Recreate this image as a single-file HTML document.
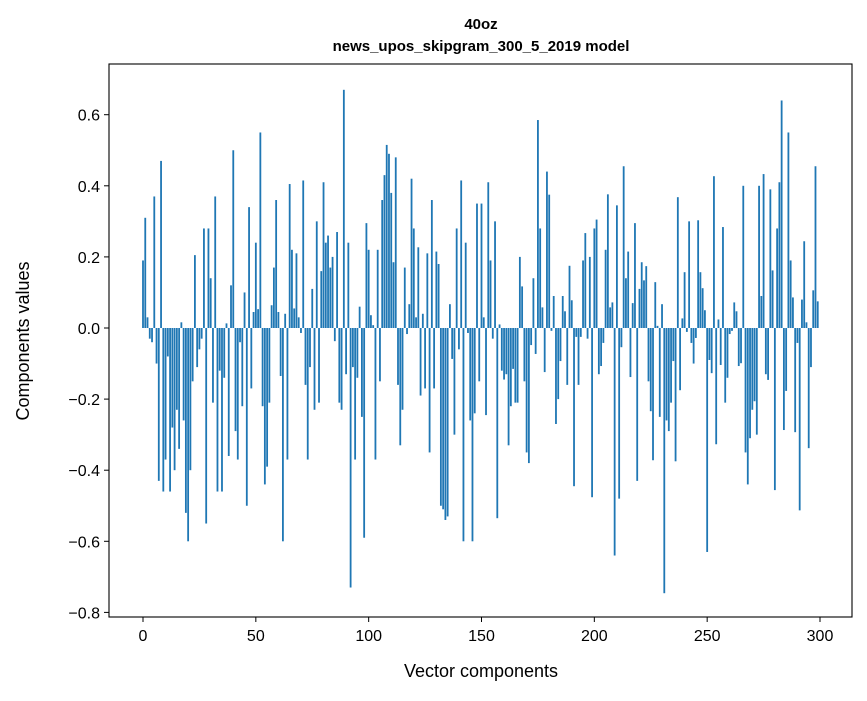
<!DOCTYPE html>
<html><head><meta charset="utf-8"><style>
body{margin:0;background:#fff;}
svg text{font-family:"Liberation Sans","DejaVu Sans",sans-serif;fill:#000;}
</style></head><body>
<svg id="chart" width="867" height="696" xmlns="http://www.w3.org/2000/svg">
<rect width="867" height="696" fill="#fff"/>
<text x="481" y="29" text-anchor="middle" font-size="15" font-weight="bold">40oz</text>
<text x="481" y="51" text-anchor="middle" font-size="15" font-weight="bold">news_upos_skipgram_300_5_2019 model</text>
<g id="bars"></g>
<g id="axes"></g>
<text x="481" y="677" text-anchor="middle" font-size="18">Vector components</text>
<text transform="translate(29,341) rotate(-90)" text-anchor="middle" font-size="18">Components values</text>
</svg>
<script>
const values = [0.19,0.31,0.03,-0.03,-0.04,0.37,-0.10,-0.43,0.47,-0.46,
-0.37,-0.08,-0.46,-0.28,-0.40,-0.23,-0.34,0.016,-0.26,-0.52,
-0.60,-0.40,-0.15,0.205,-0.11,-0.06,-0.03,0.28,-0.55,0.28,
0.14,-0.21,0.37,-0.46,-0.12,-0.46,-0.14,0.013,-0.36,0.12,
0.50,-0.29,-0.37,-0.04,-0.22,0.10,-0.50,0.34,-0.17,0.045,
0.24,0.053,0.55,-0.22,-0.44,-0.39,-0.21,0.064,0.17,0.36,
0.045,-0.135,-0.60,0.04,-0.37,0.405,0.22,0.055,0.21,0.03,
-0.014,0.415,-0.16,-0.37,-0.11,0.11,-0.23,0.30,-0.21,0.16,
0.41,0.24,0.26,0.17,0.20,-0.037,0.27,-0.21,-0.23,0.67,
-0.13,0.24,-0.73,-0.11,-0.37,-0.14,0.06,-0.25,-0.59,0.295,
0.22,0.036,0.008,-0.37,0.22,-0.15,0.36,0.43,0.515,0.49,
0.38,0.185,0.48,-0.16,-0.33,-0.23,0.17,-0.017,0.067,0.42,
0.28,0.03,0.227,-0.19,0.04,-0.17,0.21,-0.35,0.36,-0.17,
0.215,0.18,-0.50,-0.51,-0.54,-0.53,0.067,-0.087,-0.30,0.28,
-0.06,0.415,-0.60,0.24,-0.014,-0.26,-0.60,-0.24,0.35,-0.15,
0.35,0.03,-0.245,0.41,0.19,-0.03,0.30,-0.535,0.01,-0.12,
-0.145,-0.13,-0.33,-0.22,-0.115,-0.21,-0.21,0.20,0.117,-0.15,
-0.35,-0.38,-0.048,0.14,-0.073,0.585,0.28,0.058,-0.124,0.44,
0.375,-0.008,0.09,-0.27,-0.2,-0.093,0.09,0.047,-0.16,0.175,
0.078,-0.445,-0.025,-0.16,-0.025,0.19,0.267,-0.03,0.20,-0.476,
0.28,0.305,-0.13,-0.107,-0.042,0.22,0.376,0.058,0.072,-0.64,
0.345,-0.48,-0.054,0.455,0.14,0.215,-0.138,0.07,0.295,-0.43,
0.11,0.185,0.134,0.174,-0.15,-0.234,-0.372,0.129,0.006,-0.25,
0.067,-0.746,-0.26,-0.29,-0.21,-0.093,-0.375,0.368,-0.175,0.027,
0.157,-0.011,0.30,-0.042,-0.10,-0.028,0.303,0.157,0.112,0.05,
-0.63,-0.09,-0.127,0.427,-0.327,0.024,-0.104,0.284,-0.21,-0.14,
-0.017,-0.008,0.072,0.047,-0.107,-0.099,0.40,-0.35,-0.44,-0.31,
-0.23,-0.206,-0.30,0.40,0.09,0.433,-0.13,-0.146,0.39,0.162,
-0.456,0.28,0.41,0.64,-0.287,-0.177,0.55,0.19,0.086,-0.293,
-0.042,-0.513,0.08,0.244,0.016,-0.338,-0.11,0.106,0.455,0.075];
const xTicks = [0,50,100,150,200,250,300];
const yTicks = [-0.8,-0.6,-0.4,-0.2,0.0,0.2,0.4,0.6];
const yTickLabels = ["\u22120.8","\u22120.6","\u22120.4","\u22120.2","0.0","0.2","0.4","0.6"];

const NS="http://www.w3.org/2000/svg";
const L=109,R=852,T=64,B=617;
function xs(v){return 143+(v)*(820-143)/300;}
function ys(v){return 328-(v)*355.5;}
const bars=document.getElementById('bars');
values.forEach((v,i)=>{
  const r=document.createElementNS(NS,'rect');
  const x0=xs(i-0.4),x1=xs(i+0.4);
  r.setAttribute('x',x0);r.setAttribute('width',x1-x0);
  r.setAttribute('y',Math.min(ys(v),ys(0)));r.setAttribute('height',Math.abs(ys(v)-ys(0)));
  r.setAttribute('fill','#1f77b4');
  
  
  bars.appendChild(r);
});
const ax=document.getElementById('axes');
const frame=document.createElementNS(NS,'rect');
frame.setAttribute('x',L);frame.setAttribute('y',T);frame.setAttribute('width',R-L);frame.setAttribute('height',B-T);
frame.setAttribute('fill','none');frame.setAttribute('stroke','#000');frame.setAttribute('stroke-width','1.1');


ax.appendChild(frame);
xTicks.forEach(t=>{
  const l=document.createElementNS(NS,'line');
  l.setAttribute('x1',xs(t));l.setAttribute('x2',xs(t));l.setAttribute('y1',B);l.setAttribute('y2',B+5);l.setAttribute('stroke','#000');
  
  
  ax.appendChild(l);
  const tx=document.createElementNS(NS,'text');
  tx.setAttribute('x',xs(t));tx.setAttribute('y',B+24);tx.setAttribute('text-anchor','middle');tx.setAttribute('font-size','16');
  tx.textContent=t;
  
  
  ax.appendChild(tx);
});
yTicks.forEach((t,k)=>{
  const l=document.createElementNS(NS,'line');
  l.setAttribute('x1',L-5);l.setAttribute('x2',L);l.setAttribute('y1',ys(t));l.setAttribute('y2',ys(t));l.setAttribute('stroke','#000');
  
  
  ax.appendChild(l);
  const tx=document.createElementNS(NS,'text');
  tx.setAttribute('x',L-9);tx.setAttribute('y',ys(t)+6);tx.setAttribute('text-anchor','end');tx.setAttribute('font-size','16');
  tx.textContent=yTickLabels[k];
  
  
  ax.appendChild(tx);
});
</script>
</body></html>
